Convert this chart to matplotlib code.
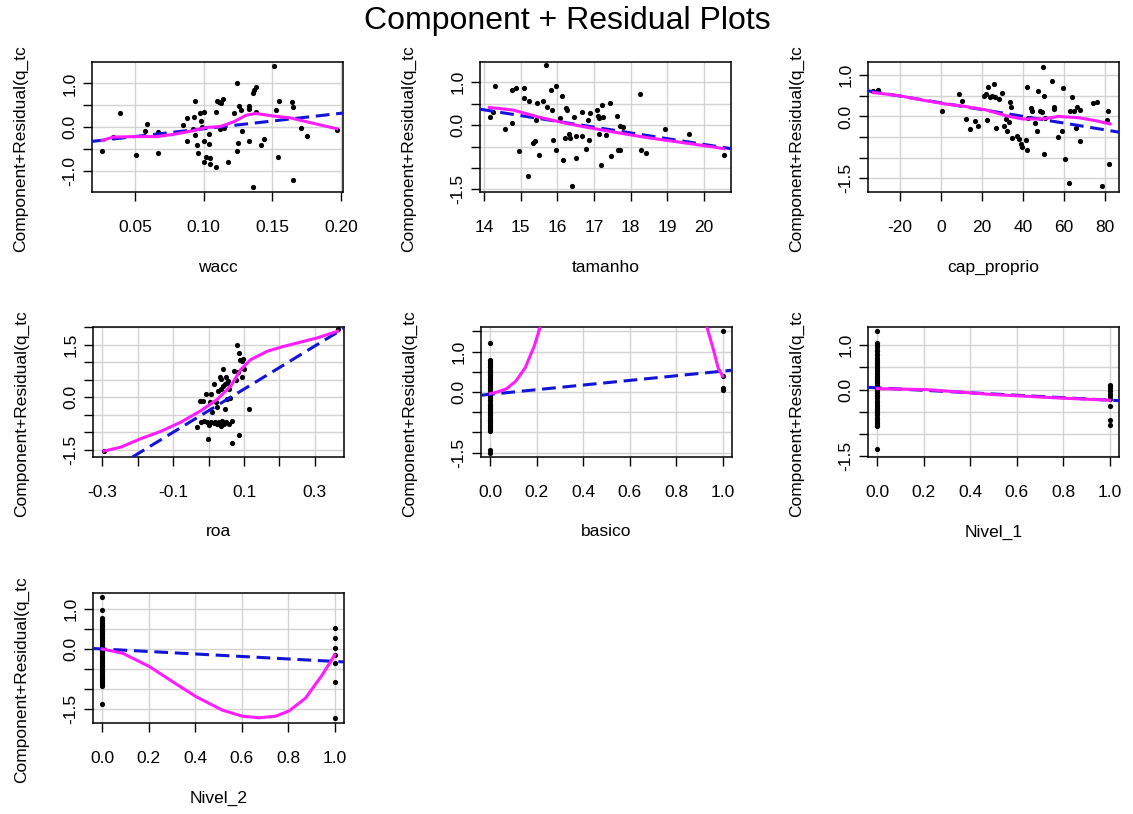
import numpy as np
import matplotlib.pyplot as plt

plt.rcParams['font.family'] = ['Liberation Sans', 'DejaVu Sans']

W, H = 1133, 814
ylab_text = "Component+Residual(q_tc"

# ---- wacc ----
wacc_x = [0.026, 0.034, 0.039, 0.051, 0.057, 0.059, 0.067, 0.067, 0.085, 0.088,
          0.088, 0.092, 0.093, 0.094, 0.094, 0.095, 0.096, 0.097, 0.098, 0.099,
          0.100, 0.100, 0.100, 0.102, 0.104, 0.104, 0.105, 0.105, 0.109, 0.109,
          0.110, 0.111, 0.113, 0.114, 0.112, 0.115, 0.118, 0.122, 0.124, 0.124,
          0.125, 0.126, 0.127, 0.128, 0.133, 0.133, 0.133, 0.136, 0.137, 0.138,
          0.138, 0.136, 0.142, 0.144, 0.151, 0.153, 0.154, 0.155, 0.164, 0.165,
          0.165, 0.171, 0.175, 0.197]
wacc_y = [-0.54, -0.22, 0.32, -0.65, -0.09, 0.08, -0.12, -0.60, 0.04, -0.32,
          0.21, -0.04, 0.22, 0.59, -0.18, -0.42, -0.60, 0.31, 0.14, 0.00,
          -0.33, 0.35, -0.81, -0.69, -0.17, -0.38, -0.85, -0.72, -0.91, 0.35,
          0.60, 0.58, 0.55, 0.64, -0.04, -0.02, -0.81, 0.32, 1.00, -0.54,
          -0.37, 0.48, 0.38, -0.09, 0.42, 0.48, -0.31, 0.77, 0.85, 0.92,
          0.35, -1.37, -0.42, -0.27, 1.40, 0.40, -0.69, 0.60, 0.58, 0.45,
          -1.22, -0.02, -0.20, -0.06]
wacc_fit = [(0.0187, -0.33), (0.2015, 0.32)]
wacc_sm_x = [0.026, 0.034, 0.051, 0.066, 0.078, 0.093, 0.102, 0.112, 0.122,
             0.131, 0.138, 0.151, 0.163, 0.175, 0.197]
wacc_sm_y = [-0.31, -0.23, -0.22, -0.22, -0.17, -0.08, -0.01, 0.01, 0.12,
             0.27, 0.31, 0.25, 0.21, 0.12, -0.04]

# ---- tamanho ----
tam_x = [14.15, 14.25, 14.29, 14.56, 14.75, 14.75, 14.88, 14.95, 15.08, 15.08,
         15.20, 15.23, 15.35, 15.40, 15.41, 15.45, 15.50, 15.60, 15.70, 15.73,
         15.84, 15.86, 15.88, 15.97, 15.97, 16.06, 16.13, 16.15, 16.21, 16.23,
         16.26, 16.32, 16.35, 16.41, 16.45, 16.50, 16.52, 16.67, 16.67, 16.79,
         16.84, 16.86, 16.89, 17.08, 17.11, 17.15, 17.15, 17.18, 17.22, 17.26,
         17.32, 17.43, 17.47, 17.63, 17.65, 17.70, 17.72, 17.79, 18.27, 18.29,
         18.43, 18.95, 19.59, 20.54]
tam_y = [0.18, 0.30, 0.90, -0.08, 0.04, 0.82, 0.87, -0.60, 0.87, 0.64,
         -1.19, 0.57, -0.41, -0.38, 0.12, 0.51, -0.70, 0.57, 1.39, 0.41,
         0.82, 0.35, -0.34, -0.57, 0.92, 0.17, 0.68, -0.82, -0.31, 0.39,
         0.35, -0.20, -0.31, -1.43, 0.18, -0.77, -0.26, -0.26, 0.31, -0.55,
         0.12, -0.35, 0.27, 0.35, 0.21, 0.16, -0.20, -0.94, 0.47, 0.18,
         -0.22, 0.52, -0.73, 0.21, -0.59, -0.57, -0.02, -0.04, 0.72, -0.57,
         -0.65, -0.10, -0.21, -0.69]
tam_fit = [(13.89, 0.37), (20.74, -0.55)]
tam_sm_x = [14.15, 14.79, 15.52, 16.25, 16.79, 17.52, 18.43, 19.34, 20.25, 20.54]
tam_sm_y = [0.41, 0.35, 0.18, 0.04, -0.05, -0.16, -0.29, -0.40, -0.51, -0.55]

# ---- cap_proprio ----
cap_x = [-32.9, -30.5, 0.6, 9.0, 10.3, 12.3, 14.4, 16.8, 17.9, 21.1,
         21.9, 22.7, 23.2, 23.9, 24.8, 26.0, 26.5, 27.1, 28.1, 30.0,
         30.8, 31.6, 32.4, 33.2, 33.5, 34.0, 34.8, 37.3, 38.1, 38.9,
         39.7, 41.3, 42.1, 42.1, 42.6, 43.7, 44.5, 45.8, 46.9, 47.4,
         48.2, 49.4, 49.7, 50.2, 50.2, 50.6, 54.2, 55.0, 55.0, 57.1,
         59.0, 59.4, 60.3, 62.3, 63.1, 63.9, 64.7, 65.8, 66.3, 67.9,
         67.9, 74.0, 76.0, 78.4, 80.8, 81.3, 81.9]
cap_y = [0.62, 0.64, 0.13, 0.54, 0.38, -0.07, -0.30, -0.11, -0.22, 0.50,
         0.54, -0.08, 0.72, 0.46, 0.50, 0.78, 0.46, -0.28, 0.42, 0.56,
         -0.22, -0.06, -0.34, -0.14, 0.34, 0.22, -0.52, -0.48, -0.54, -0.66,
         -0.75, -0.58, -0.82, 0.72, -0.03, 0.21, 0.14, -0.16, -0.35, 0.62,
         0.14, 0.10, 1.20, 0.50, -0.91, -0.03, 0.86, 0.24, 0.18, -0.50,
         -0.34, 0.69, -1.02, -1.62, 0.13, 0.48, 0.14, -0.28, 0.22, -0.59,
         0.16, 0.32, 0.34, -1.68, -0.08, 0.13, -1.16]
cap_fit = [(-35.3, 0.62), (86.8, -0.38)]
cap_sm_x = [-32.9, -20.0, -7.1, 2.6, 12.3, 21.9, 31.6, 39.7, 49.4, 57.4, 67.1, 75.2, 82.4]
cap_sm_y = [0.58, 0.50, 0.38, 0.30, 0.24, 0.16, 0.02, -0.06, -0.06, 0.00, -0.03, -0.10, -0.18]

# ---- roa ----
roa_x = [-0.295, -0.032, -0.024, -0.022, -0.017, -0.013, -0.008, -0.005, -0.001, 0.001,
         0.004, 0.006, 0.008, 0.011, 0.014, 0.016, 0.017, 0.020, 0.023, 0.025,
         0.027, 0.030, 0.031, 0.034, 0.034, 0.036, 0.038, 0.040, 0.042, 0.044,
         0.046, 0.046, 0.048, 0.049, 0.051, 0.053, 0.055, 0.058, 0.058, 0.061,
         0.065, 0.067, 0.072, 0.077, 0.080, 0.083, 0.086, 0.086, 0.089, 0.093,
         0.095, 0.097, 0.100, 0.114, 0.364]
roa_y = [-1.53, -0.85, -0.09, -0.71, -0.09, -0.66, 0.11, -0.71, -1.18, -0.78,
         -0.12, -0.71, 0.09, -0.41, -0.73, 0.38, -0.69, -0.12, -0.75, -0.28,
         0.19, -0.71, 0.59, -0.82, 0.52, 0.24, -0.66, 0.80, 0.33, -0.75,
         -0.33, 0.38, 0.57, -0.71, -0.05, 0.40, 0.47, 0.24, -0.75, -0.03,
         -1.29, -0.66, 0.75, 0.50, 1.51, 0.73, 1.27, -1.08, 1.07, 1.04,
         0.59, 1.10, 0.82, -0.33, 1.95]
roa_fit = [(-0.187, -1.53), (0.383, 1.98)]
roa_sm_x = [-0.295, -0.248, -0.192, -0.135, -0.079, -0.022, 0.025, 0.063, 0.091,
            0.119, 0.166, 0.213, 0.260, 0.307, 0.364]
roa_sm_y = [-1.53, -1.42, -1.18, -0.97, -0.71, -0.38, -0.05, 0.33, 0.80,
            1.08, 1.32, 1.46, 1.58, 1.70, 1.89]

# ---- basico (0/1) ----
bas_y0 = [1.22, 0.79, 0.76, 0.71, 0.68, 0.63, 0.61, 0.55, 0.52, 0.49, 0.44, 0.41,
          0.37, 0.31, 0.29, 0.24, 0.21, 0.18, 0.12, 0.09, 0.07, 0.02, -0.01, -0.06,
          -0.08, -0.13, -0.16, -0.21, -0.23, -0.29, -0.33, -0.35, -0.40, -0.42,
          -0.48, -0.51, -0.55, -0.57, -0.62, -0.66, -0.70, -0.72, -0.78, -0.81,
          -0.85, -0.89, -0.93, -0.96, -1.44, -1.50]
bas_y1 = [1.50, 0.39, 0.11, 0.06]
bas_fit = [(-0.04, -0.08), (1.04, 0.54)]
bas_sm_x = [0.0, 0.03, 0.07, 0.11, 0.15, 0.19, 0.23, 0.30, 0.50, 0.70, 0.90, 0.93, 0.96, 0.98, 1.0]
bas_sm_y = [-0.04, 0.0, 0.08, 0.27, 0.60, 1.15, 1.90, 3.0, 4.5, 4.0, 2.3, 1.65, 1.05, 0.60, 0.39]

# ---- Nivel_1 (0/1) ----
n1_y0 = [1.32, 1.05, 1.01, 0.96, 0.90, 0.86, 0.81, 0.77, 0.72, 0.66, 0.62, 0.58,
         0.53, 0.49, 0.45, 0.40, 0.34, 0.31, 0.27, 0.22, 0.17, 0.14, 0.10, 0.05,
         0.01, -0.03, -0.07, -0.12, -0.15, -0.20, -0.25, -0.28, -0.33, -0.37,
         -0.41, -0.45, -0.50, -0.54, -0.58, -0.63, -0.67, -0.71, -0.75, -0.79,
         -0.83, -1.34]
n1_y1 = [0.11, 0.07, 0.04, -0.04, -0.09, -0.15, -0.22, -0.38, -0.68, -0.79]
n1_fit = [(-0.04, 0.05), (1.04, -0.25)]
n1_sm_x = [0.0, 0.21, 0.49, 0.78, 1.0]
n1_sm_y = [0.02, 0.00, -0.11, -0.19, -0.24]

# ---- Nivel_2 (0/1) ----
n2_y0 = [1.29, 0.97, 0.78, 0.74, 0.69, 0.66, 0.61, 0.57, 0.52, 0.48, 0.44, 0.39,
         0.35, 0.30, 0.27, 0.22, 0.18, 0.13, 0.09, 0.05, 0.01, -0.04, -0.08,
         -0.12, -0.17, -0.21, -0.26, -0.30, -0.34, -0.39, -0.43, -0.47, -0.52,
         -0.56, -0.60, -0.65, -0.69, -0.74, -0.78, -0.83, -0.87, -0.92, -1.38]
n2_y1 = [0.53, 0.28, 0.02, -0.15, -0.36, -0.82, -1.73]
n2_fit = [(0.0, 0.0), (1.03, -0.32)]
n2_sm_x = [0.0, 0.089, 0.203, 0.303, 0.403, 0.517, 0.603, 0.674, 0.746, 0.803,
           0.874, 0.946, 1.0]
n2_sm_y = [0.0, -0.11, -0.44, -0.82, -1.19, -1.53, -1.68, -1.72, -1.68, -1.55,
           -1.23, -0.65, -0.15]

unit_ticks = [0, 0.2, 0.4, 0.6, 0.8, 1.0]
unit_labels = ['0.0', '0.2', '0.4', '0.6', '0.8', '1.0']

panels = [
    dict(name='wacc', x=wacc_x, y=wacc_y, fit=wacc_fit, sx=wacc_sm_x, sy=wacc_sm_y,
         pos=(92, 62), xlim=(0.0187, 0.2015), ylim=(-1.49, 1.49),
         xt=[0.05, 0.10, 0.15, 0.20], xl=['0.05', '0.10', '0.15', '0.20'],
         yt=[-1, -0.5, 0, 0.5, 1], yl=['-1.0', '', '0.0', '', '1.0']),
    dict(name='tamanho', x=tam_x, y=tam_y, fit=tam_fit, sx=tam_sm_x, sy=tam_sm_y,
         pos=(480, 62), xlim=(13.89, 20.74), ylim=(-1.56, 1.47),
         xt=[14, 15, 16, 17, 18, 19, 20], xl=['14', '15', '16', '17', '18', '19', '20'],
         yt=[-1.5, -1, -0.5, 0, 0.5, 1], yl=['-1.5', '', '', '0.0', '', '1.0']),
    dict(name='cap_proprio', x=cap_x, y=cap_y, fit=cap_fit, sx=cap_sm_x, sy=cap_sm_y,
         pos=(868, 62), xlim=(-35.5, 86.8), ylim=(-1.83, 1.32),
         xt=[-20, 0, 20, 40, 60, 80], xl=['-20', '0', '20', '40', '60', '80'],
         yt=[-1.5, -1, -0.5, 0, 0.5, 1], yl=['-1.5', '', '', '0.0', '', '1.0']),
    dict(name='roa', x=roa_x, y=roa_y, fit=roa_fit, sx=roa_sm_x, sy=roa_sm_y,
         pos=(93, 327), xlim=(-0.326, 0.382), ylim=(-1.70, 2.01),
         xt=[-0.3, -0.2, -0.1, 0, 0.1, 0.2, 0.3], xl=['-0.3', '', '-0.1', '', '0.1', '', '0.3'],
         yt=[-1.5, -1, -0.5, 0, 0.5, 1, 1.5, 2], yl=['-1.5', '', '', '0.0', '', '', '1.5', '']),
    dict(name='basico', x=[0] * len(bas_y0) + [1] * len(bas_y1), y=bas_y0 + bas_y1,
         fit=bas_fit, sx=bas_sm_x, sy=bas_sm_y,
         pos=(481, 327), xlim=(-0.04, 1.04), ylim=(-1.61, 1.61),
         xt=unit_ticks, xl=unit_labels,
         yt=[-1.5, -1, -0.5, 0, 0.5, 1, 1.5], yl=['-1.5', '', '', '0.0', '', '1.0', '']),
    dict(name='Nivel_1', x=[0] * len(n1_y0) + [1] * len(n1_y1), y=n1_y0 + n1_y1,
         fit=n1_fit, sx=n1_sm_x, sy=n1_sm_y,
         pos=(868, 327), xlim=(-0.04, 1.04), ylim=(-1.52, 1.41),
         xt=unit_ticks, xl=unit_labels,
         yt=[-1.5, -1, -0.5, 0, 0.5, 1], yl=['-1.5', '', '', '0.0', '', '1.0']),
    dict(name='Nivel_2', x=[0] * len(n2_y0) + [1] * len(n2_y1), y=n2_y0 + n2_y1,
         fit=n2_fit, sx=n2_sm_x, sy=n2_sm_y,
         pos=(93, 593), xlim=(-0.04, 1.04), ylim=(-1.85, 1.40),
         xt=unit_ticks, xl=unit_labels,
         yt=[-1.5, -1, -0.5, 0, 0.5, 1], yl=['-1.5', '', '', '0.0', '', '1.0']),
]

fig = plt.figure(figsize=(W / 100, H / 100), dpi=100)
fig.patch.set_facecolor('white')

aw, ah = 251, 130
for p in panels:
    left, top = p['pos']
    ax = fig.add_axes([left / W, 1 - (top + ah) / H, aw / W, ah / H])
    ax.set_xlim(p['xlim'])
    ax.set_ylim(p['ylim'])
    ax.set_xticks(p['xt'])
    ax.set_xticklabels(p['xl'])
    ax.set_yticks(p['yt'])
    ax.set_yticklabels(p['yl'], rotation=90, va='center')
    ax.grid(True, color='#d3d3d3', lw=1.0)
    ax.set_axisbelow(True)
    ax.tick_params(direction='out', length=6.5, width=1.0, labelsize=12.5,
                   colors='black')
    ax.tick_params(axis='x', pad=14)
    ax.tick_params(axis='y', pad=4)
    for sp in ax.spines.values():
        sp.set_linewidth(1.1)
        sp.set_color('black')

    ax.scatter(p['x'], p['y'], s=14, color='black', linewidths=0, zorder=3)
    ax.axline(p['fit'][0], p['fit'][1], color='#1414d8', lw=2.2,
              dashes=(4.5, 2.2), zorder=4)
    ax.plot(p['sx'], p['sy'], color='#ff1cff', lw=2.2, zorder=5)

    cy = top + ah / 2
    fig.text((left + aw / 2) / W, 1 - (top + ah + 75) / H, p['name'],
             ha='center', va='center', fontsize=12.5)
    fig.text((left - 71) / W, 1 - (cy + 125) / H, ylab_text, rotation=90,
             ha='center', va='bottom', fontsize=12.5)

fig.text(567 / W, 1 - 21 / H, 'Component + Residual Plots', ha='center',
         va='center', fontsize=23)

fig.savefig('out.png', dpi=100)
